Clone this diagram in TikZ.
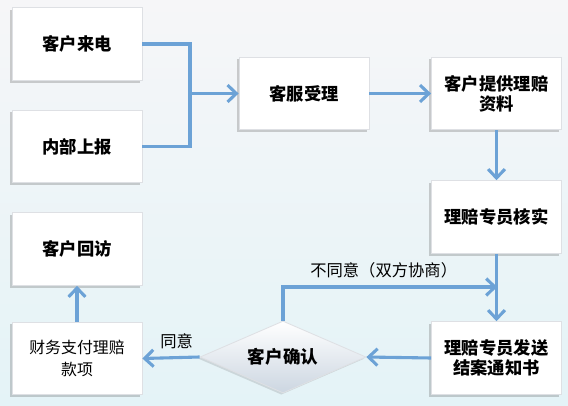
\documentclass[tikz,border=0pt]{standalone}
\usepackage{fontspec}
\setmainfont{Noto Sans CJK SC}
\usetikzlibrary{arrows.meta,shapes.geometric,shadows}
\definecolor{arrblue}{RGB}{108,162,214}
\definecolor{bgtop}{RGB}{246,246,248}
\definecolor{bgbot}{RGB}{228,243,247}
\definecolor{dmbot}{RGB}{204,214,225}
\definecolor{edge}{RGB}{222,224,228}
\tikzset{
  box/.style={draw=edge, fill=white, line width=0.6pt, minimum width=3.25cm,
    minimum height=1.82cm, align=center, font=\bfseries\fontsize{12.3}{14}\selectfont,
    drop shadow={shadow xshift=-1.6pt, shadow yshift=-1.6pt, opacity=0.3, fill=black!60}},
  arr/.style={draw=arrblue, line width=2.2pt, -{Straight Barb[length=2.2mm,width=4.2mm]}},
  link/.style={draw=arrblue, line width=2.2pt},
  lbl/.style={font=\fontsize{11.6}{13}\selectfont}
}
\begin{document}
\begin{tikzpicture}
  % Tlo
  \shade[top color=bgtop, bottom color=bgbot] (0,0) rectangle (14.2,10.125);
  \useasboundingbox (0,0) rectangle (14.2,10.125);

  % Zrodla zgloszen
  \node[box] (call) at (1.925,9.025) {客户来电};
  \node[box] (report) at (1.925,6.4625) {内部上报};

  % Obsluga
  \node[box] (accept) at (7.6,7.7875) {客服受理};
  \node[box] (provide) at (12.4125,7.7875) {客户提供理赔\\资料};
  \node[box] (verify) at (12.4125,4.7) {理赔专员核实};
  \node[box] (notice) at (12.4125,1.175) {理赔专员发送\\结案通知书};

  % Decyzja klienta
  \node[diamond, aspect=2.3, minimum width=4.15cm, minimum height=1.8cm, inner sep=0,
    top color=white, bottom color=dmbot, draw=edge, line width=0.6pt,
    drop shadow={shadow xshift=-1.2pt, shadow yshift=-1.2pt, opacity=0.2, fill=black!60},
    font=\bfseries\fontsize{12.5}{14}\selectfont] (confirm) at (7.075,1.2) {客户确认};

  % Wyplata i wizyta
  \node[box, font=\fontsize{11.3}{15.5}\selectfont] (pay) at (1.925,1.1625) {财务支付理赔\\款项};
  \node[box] (visit) at (1.925,3.9) {客户回访};

  % Strzalki
  \coordinate (join) at (4.75,7.7875);
  \draw[link] (call.east) -| (join);
  \draw[link] (report.east) -| (join);
  \draw[arr] (join) -- (accept.west);
  \draw[arr] (accept.east) -- (provide.west);
  \draw[arr] (provide.south) -- (verify.north);
  \draw[arr] (verify.south) -- (notice.north);
  \draw[arr] (notice.west) -- (confirm.east);
  \draw[arr] (confirm.west) -- node[lbl, above=2pt, xshift=4pt] {同意} (pay.east);
  \draw[arr] (pay.north) -- (visit.south);

  \coordinate (merge) at (12.43,2.95);
  \draw[arr] (confirm.north) |- node[lbl, above=2pt, pos=0.735] {不同意（双方协商）} (merge);
\end{tikzpicture}
\end{document}
